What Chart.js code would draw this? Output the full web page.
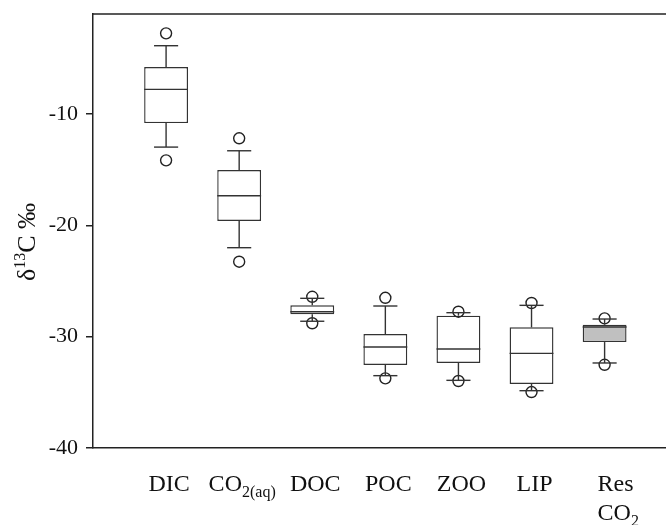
<!DOCTYPE html>
<html>
<head>
<meta charset="utf-8">
<script src="https://cdn.jsdelivr.net/npm/chart.js@4.4.1/dist/chart.umd.min.js"></script>
<style>
  html, body { margin: 0; padding: 0; background: #fff; }
  #wrap { width: 666px; height: 525px; }
</style>
</head>
<body>
<div id="wrap"><canvas id="chart" width="666" height="525"></canvas></div>
<script>
// ─── DATA ────────────────────────────────────────────────────────────────────
// _{...} marks subscript text, \n a line break
const categories  = ["DIC", "CO_{2(aq)}", "DOC", "POC", "ZOO", "LIP", "Res\nCO_{2}"];
const outlierHigh = [-2.74,  -12.17, -26.41, -26.50, -27.75, -26.97, -28.35];
const whiskerHigh = [-3.85,  -13.29, -26.55, -27.24, -27.84, -27.18, -28.41];
const q3          = [-5.77,  -15.02, -27.18, -29.76, -28.11, -29.16, -28.92];
const median      = [-7.77,  -17.33, -27.75, -30.93, -31.10, -31.50, -29.13];
const q1          = [-10.80, -19.60, -27.99, -32.54, -32.36, -34.25, -30.48];
const whiskerLow  = [-12.96, -22.00, -28.61, -33.50, -33.92, -34.85, -32.36];
const outlierLow  = [-14.15, -23.26, -28.79, -33.74, -33.98, -34.97, -32.52];
const yTicks      = [-40, -30, -20, -10];
const yTitle      = ["δ", "13", "C ‰"];   // base, superscript, rest

const LINE = "#333";
const AXIS = "#222";
const SERIF = "'Liberation Serif', 'Times New Roman', serif";

// ─── PLUGINS ─────────────────────────────────────────────────────────────────

const boxLines = {
    id: "boxLines",
    afterDatasetsDraw(chart) {
        const { ctx, scales: { x, y } } = chart;
        const bars = chart.getDatasetMeta(0).data;
        ctx.save();
        ctx.strokeStyle = LINE;
        ctx.lineWidth = 1.4;
        const seg = (x1, y1, x2, y2) => { ctx.beginPath(); ctx.moveTo(x1, y1); ctx.lineTo(x2, y2); ctx.stroke(); };
        categories.forEach((c, i) => {
            const cx = x.getPixelForValue(i + 1);
            const half = bars[i].width / 2;
            const cap = half * 0.55;
            seg(cx - half, y.getPixelForValue(median[i]), cx + half, y.getPixelForValue(median[i]));
            seg(cx, y.getPixelForValue(q3[i]), cx, y.getPixelForValue(whiskerHigh[i]));
            seg(cx, y.getPixelForValue(q1[i]), cx, y.getPixelForValue(whiskerLow[i]));
            seg(cx - cap, y.getPixelForValue(whiskerHigh[i]), cx + cap, y.getPixelForValue(whiskerHigh[i]));
            seg(cx - cap, y.getPixelForValue(whiskerLow[i]), cx + cap, y.getPixelForValue(whiskerLow[i]));
        });
        ctx.restore();
    }
};

function richWidth(ctx, text) {
    let w = 0;
    text.split(/(_\{[^}]*\})/).forEach(part => {
        if (!part) return;
        const sub = part.startsWith("_{");
        ctx.font = (sub ? "16px " : "24px ") + SERIF;
        w += ctx.measureText(sub ? part.slice(2, -1) : part).width;
    });
    return w;
}

function drawRich(ctx, text, x, base) {
    text.split(/(_\{[^}]*\})/).forEach(part => {
        if (!part) return;
        const sub = part.startsWith("_{");
        const t = sub ? part.slice(2, -1) : part;
        ctx.font = (sub ? "16px " : "24px ") + SERIF;
        ctx.fillText(t, x, sub ? base + 6 : base);
        x += ctx.measureText(t).width;
    });
}

const frameAndLabels = {
    id: "frameAndLabels",
    afterDraw(chart) {
        const { ctx, chartArea: a, scales: { x } } = chart;
        ctx.save();
        // top frame line
        ctx.strokeStyle = AXIS;
        ctx.lineWidth = 1.5;
        ctx.beginPath(); ctx.moveTo(a.left, a.top); ctx.lineTo(a.right, a.top); ctx.stroke();

        // category labels
        ctx.fillStyle = "#111";
        ctx.textBaseline = "alphabetic";
        ctx.textAlign = "left";
        categories.forEach((c, i) => {
            const cx = x.getPixelForValue(i + 1);
            const lines = c.split("\n");
            if (lines.length === 1) {
                drawRich(ctx, c, cx - richWidth(ctx, c) / 2 + 3, 491);
            } else {
                lines.forEach((ln, k) => drawRich(ctx, ln, cx - 7, 491 + k * 29));
            }
        });

        // y axis title, rotated
        ctx.translate(26, 242);
        ctx.rotate(-Math.PI / 2);
        ctx.font = "26px " + SERIF;
        const w0 = ctx.measureText(yTitle[0]).width;
        const w2 = ctx.measureText(yTitle[2]).width;
        ctx.font = "16px " + SERIF;
        const w1 = ctx.measureText(yTitle[1]).width;
        let px = -(w0 + w1 + w2) / 2;
        ctx.font = "26px " + SERIF;
        ctx.fillText(yTitle[0], px, 9); px += w0;
        ctx.font = "16px " + SERIF;
        ctx.fillText(yTitle[1], px, -1); px += w1;
        ctx.font = "26px " + SERIF;
        ctx.fillText(yTitle[2], px, 9);
        ctx.restore();
    }
};

// ─── CHART ───────────────────────────────────────────────────────────────────

new Chart(document.getElementById("chart"), {
    type: "bar",
    data: {
        datasets: [
            {
                type: "bar",
                data: categories.map((c, i) => ({ x: i + 1, y: [q1[i], q3[i]] })),
                backgroundColor: categories.map((c, i) => i === categories.length - 1 ? "#c0c0c0" : "#ffffff"),
                borderColor: LINE,
                borderWidth: 1.4,
                borderSkipped: false,
                barPercentage: 0.6,
                categoryPercentage: 1,
                order: 2
            },
            {
                type: "scatter",
                data: categories.flatMap((c, i) => [
                    { x: i + 1, y: outlierHigh[i] },
                    { x: i + 1, y: outlierLow[i] }
                ]),
                pointStyle: "circle",
                pointRadius: 5.5,
                pointBorderWidth: 1.4,
                pointBorderColor: "#222",
                pointBackgroundColor: "rgba(0,0,0,0)",
                order: 1
            }
        ]
    },
    options: {
        responsive: false,
        animation: false,
        devicePixelRatio: 1,
        layout: { autoPadding: false, padding: { top: 14, left: 0, right: 0, bottom: 0 } },
        plugins: { legend: { display: false }, tooltip: { enabled: false } },
        scales: {
            x: {
                type: "linear",
                offset: false,
                min: 0,
                max: 7.84,
                afterBuildTicks: s => { s.ticks = categories.map((c, i) => ({ value: i + 1 })); },
                ticks: { display: false },
                grid: { display: false, offset: false },
                border: { display: true, color: AXIS, width: 1.5 },
                afterFit: s => { s.height = 77; s.paddingLeft = 0; s.paddingRight = 0; }
            },
            y: {
                min: -40,
                max: -1,
                afterBuildTicks: s => { s.ticks = yTicks.map(v => ({ value: v })); },
                ticks: { color: "#111", font: { family: SERIF, size: 22 }, padding: 8 },
                grid: { drawOnChartArea: false, drawTicks: true, tickLength: 7, color: AXIS, lineWidth: 1.5 },
                border: { display: true, color: AXIS, width: 1.5 },
                afterFit: s => { s.width = 93; s.paddingTop = 0; s.paddingBottom = 0; }
            }
        }
    },
    plugins: [boxLines, frameAndLabels]
});
</script>
</body>
</html>
